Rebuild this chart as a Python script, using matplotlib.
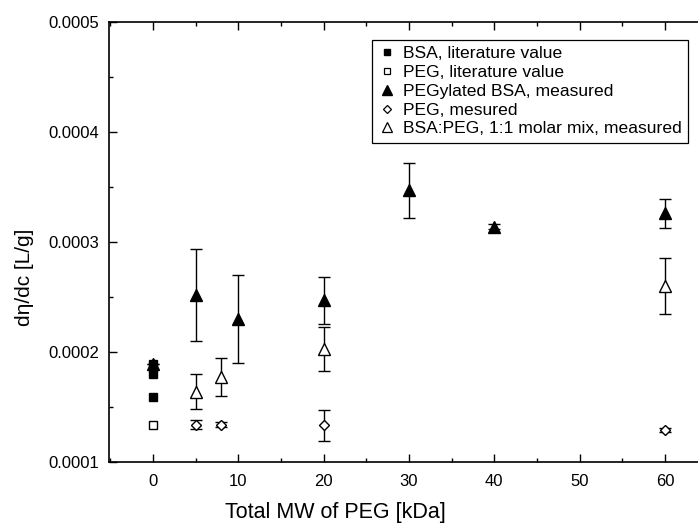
import matplotlib
matplotlib.use("Agg")
import matplotlib.pyplot as plt
from matplotlib.lines import Line2D
from matplotlib.ticker import MultipleLocator, FormatStrFormatter

plt.rcParams['font.family'] = ['Liberation Sans', 'DejaVu Sans']

# BSA, literature value
bsa_lit_x = [0, 0, 0]
bsa_lit_y = [0.000189, 0.000180, 0.000159]

# PEG, literature value
peg_lit_x = [0]
peg_lit_y = [0.000134]

# PEGylated BSA, measured
pegbsa_x = [0, 5, 10, 20, 30, 40, 60]
pegbsa_y = [0.000189, 0.000252, 0.000230, 0.000247, 0.000347, 0.000314, 0.000326]
pegbsa_err = [0.0, 0.000042, 0.000040, 0.0000215, 0.000025, 0.000002, 0.0000132]

# PEG, measured
peg_meas_x = [5, 8, 20, 60]
peg_meas_y = [0.000134, 0.000134, 0.0001335, 0.000129]
peg_meas_err = [0.000004, 0.000002, 0.000014, 0.000002]

# BSA:PEG 1:1 molar mix, measured
mix_x = [5, 8, 20, 60]
mix_y = [0.000164, 0.0001775, 0.000203, 0.000260]
mix_err = [0.000016, 0.0000175, 0.000020, 0.0000257]

labels = ["BSA, literature value", "PEG, literature value",
          "PEGylated BSA, measured", "PEG, mesured",
          "BSA:PEG, 1:1 molar mix, measured"]

fig = plt.figure(figsize=(6.98, 5.24), dpi=100)
ax = fig.add_axes([109 / 698, 1 - 462 / 524, 589 / 698, 440 / 524])

ebkw = dict(ecolor='black', elinewidth=1.0, capsize=4, capthick=1.0,
            linestyle='none', markeredgecolor='black', markeredgewidth=1.0)

ax.errorbar(pegbsa_x, pegbsa_y, yerr=pegbsa_err, fmt='^', ms=8.6,
            markerfacecolor='black', zorder=3, **ebkw)
ax.errorbar(mix_x, mix_y, yerr=mix_err, fmt='^', ms=8.6,
            markerfacecolor='white', zorder=3, **ebkw)
ax.errorbar(peg_meas_x, peg_meas_y, yerr=peg_meas_err, fmt='D', ms=5.6,
            markerfacecolor='white', zorder=3, **ebkw)
ax.plot(bsa_lit_x, bsa_lit_y, 's', ms=6.3, color='black', mec='black', zorder=4)
ax.plot(peg_lit_x, peg_lit_y, 's', ms=6.3, mfc='white', mec='black', mew=1.0, zorder=4)

ax.set_xlim(-5.16, 63.87)
ax.set_ylim(0.0001, 0.0005)
ax.xaxis.set_major_locator(MultipleLocator(10))
ax.xaxis.set_minor_locator(MultipleLocator(5))
ax.yaxis.set_major_locator(MultipleLocator(0.0001))
ax.yaxis.set_minor_locator(MultipleLocator(0.00005))
ax.yaxis.set_major_formatter(FormatStrFormatter('%.4f'))

ax.tick_params(which='both', direction='in', top=True, right=False,
               width=1.0, labelsize=12, colors='black')
ax.tick_params(which='major', length=5.5)
ax.tick_params(axis='x', which='major', pad=9)
ax.tick_params(axis='y', which='major', pad=7)
ax.tick_params(which='minor', length=3)
for side in ('left', 'bottom', 'top'):
    ax.spines[side].set_linewidth(1.2)
ax.spines['right'].set_visible(False)

ax.set_xlabel("Total MW of PEG [kDa]", fontsize=15.5)
ax.set_ylabel("dη/dc [L/g]", fontsize=15)
ax.xaxis.set_label_coords(0.384, -0.092)
ax.yaxis.set_label_coords(-0.128, 0.42)

handles = [
    Line2D([], [], ls='none', marker='s', ms=5, mfc='black', mec='black'),
    Line2D([], [], ls='none', marker='s', ms=5, mfc='white', mec='black', mew=0.9),
    Line2D([], [], ls='none', marker='^', ms=6.5, mfc='black', mec='black'),
    Line2D([], [], ls='none', marker='D', ms=4.5, mfc='white', mec='black', mew=0.9),
    Line2D([], [], ls='none', marker='^', ms=6.5, mfc='white', mec='black', mew=0.9),
]
leg = ax.legend(handles, labels, loc='upper right', bbox_to_anchor=(0.983, 0.959),
                fontsize=12.6, frameon=True, fancybox=False, framealpha=1,
                edgecolor='black', handlelength=1.0, handletextpad=0.4,
                labelspacing=0.2, borderpad=0.35, borderaxespad=0)
leg.get_frame().set_linewidth(0.9)

fig.savefig("out.png", dpi=100)
